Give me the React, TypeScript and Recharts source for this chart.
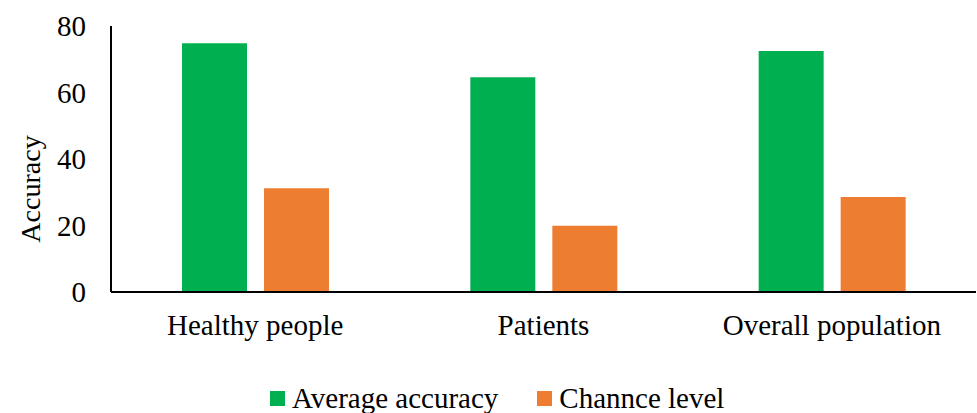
import React from 'react';
import { BarChart, Bar, XAxis, YAxis, Legend } from 'recharts';

const categories = ['Healthy people', 'Patients', 'Overall population'];
const averageAccuracy = [74.8, 64.6, 72.5];
const chanceLevel = [31.2, 19.9, 28.6];
const yTicks = [0, 20, 40, 60, 80];

const GREEN = '#00B050';
const ORANGE = '#ED7D31';
const FONT = 'Liberation Serif';

const data = categories.map((name, i) => ({
  name,
  avg: averageAccuracy[i],
  chance: chanceLevel[i],
}));

const LegendContent = () => (
  <div
    style={{
      display: 'flex',
      alignItems: 'center',
      height: 40,
      paddingTop: 10,
      paddingLeft: 270,
      fontFamily: FONT,
      fontSize: 29,
      lineHeight: '30px',
      color: '#000',
      boxSizing: 'border-box',
    }}
  >
    <span style={{ width: 15, height: 15, background: GREEN, display: 'inline-block', marginRight: 7 }} />
    <span style={{ marginRight: 39 }}>Average accuracy</span>
    <span style={{ width: 15, height: 15, background: ORANGE, display: 'inline-block', marginRight: 7 }} />
    <span>Channce level</span>
  </div>
);

const YLabel = (props: any) => {
  const vb = props.viewBox || { x: 0, y: 26, width: 111, height: 266 };
  const cx = vb.x + 30;
  const cy = vb.y + vb.height / 2 + 30;
  return (
    <text
      x={cx}
      y={cy}
      transform={`rotate(-90, ${cx}, ${cy})`}
      textAnchor="middle"
      dominantBaseline="central"
      fill="#000"
      fontFamily={FONT}
      fontSize={28}
    >
      Accuracy
    </text>
  );
};

export default function App() {
  return (
    <div style={{ position: 'absolute', left: 0, top: 0, background: '#fff' }}>
      <BarChart
        width={977}
        height={413}
        data={data}
        margin={{ top: 26, right: 1, bottom: 0, left: 0 }}
        barSize={65}
        barGap={17}
      >
        <XAxis
          dataKey="name"
          axisLine={{ stroke: '#000', strokeWidth: 2 }}
          tickLine={false}
          tickSize={0}
          tickMargin={22}
          height={81}
          tick={{ fill: '#000', fontFamily: FONT, fontSize: 29 }}
        />
        <YAxis
          domain={[0, 80]}
          ticks={yTicks}
          width={111}
          axisLine={{ stroke: '#000', strokeWidth: 2 }}
          tickLine={false}
          tickSize={0}
          tickMargin={25}
          tick={{ fill: '#000', fontFamily: FONT, fontSize: 29 }}
          label={<YLabel />}
        />
        <Legend verticalAlign="bottom" height={40} content={<LegendContent />} />
        <Bar dataKey="avg" name="Average accuracy" fill={GREEN} isAnimationActive={false} />
        <Bar dataKey="chance" name="Channce level" fill={ORANGE} isAnimationActive={false} />
      </BarChart>
    </div>
  );
}
